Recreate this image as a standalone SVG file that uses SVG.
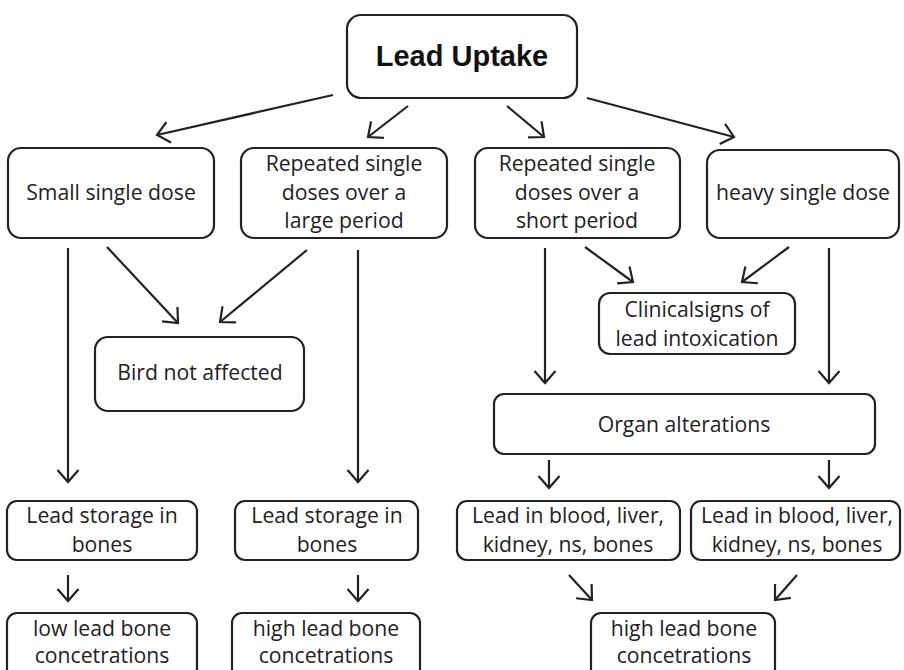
<svg xmlns="http://www.w3.org/2000/svg" width="904" height="670" viewBox="0 0 904 670">
<defs>
<style>
.box{fill:#fff;stroke:#222;stroke-width:2.2}
.t{font-family:"Open Sans","Noto Sans",sans-serif;font-size:21.2px;fill:#222;text-anchor:middle}
.title{font-family:"Liberation Sans",Arial,sans-serif;font-size:29px;font-weight:bold;fill:#111;text-anchor:middle}
.c line{stroke:#222;stroke-width:2.2;fill:none}
</style>
<marker id="a" markerUnits="userSpaceOnUse" viewBox="0 0 16 24" refX="14" refY="12" markerWidth="16" markerHeight="24" orient="auto">
<path d="M2,1.5 L14,12 L2,22.5" fill="none" stroke="#222" stroke-width="2.2"/>
</marker>
</defs>
<rect width="904" height="670" fill="#fff"/>

<g class="c">
<line x1="333" y1="95" x2="157" y2="135" marker-end="url(#a)"/>
<line x1="408" y1="106" x2="368" y2="137" marker-end="url(#a)"/>
<line x1="507" y1="106" x2="544" y2="137" marker-end="url(#a)"/>
<line x1="587" y1="98" x2="734" y2="137" marker-end="url(#a)"/>
<line x1="68" y1="248" x2="68" y2="482" marker-end="url(#a)"/>
<line x1="107" y1="247" x2="178" y2="323" marker-end="url(#a)"/>
<line x1="307" y1="250" x2="220" y2="322" marker-end="url(#a)"/>
<line x1="358" y1="250" x2="358" y2="482" marker-end="url(#a)"/>
<line x1="545" y1="248" x2="545" y2="383" marker-end="url(#a)"/>
<line x1="585" y1="247" x2="633" y2="282" marker-end="url(#a)"/>
<line x1="789" y1="247" x2="742" y2="282" marker-end="url(#a)"/>
<line x1="829" y1="248" x2="829" y2="383" marker-end="url(#a)"/>
<line x1="549" y1="460" x2="549" y2="488" marker-end="url(#a)"/>
<line x1="829" y1="460" x2="829" y2="488" marker-end="url(#a)"/>
<line x1="68" y1="575" x2="68" y2="601" marker-end="url(#a)"/>
<line x1="358" y1="575" x2="358" y2="601" marker-end="url(#a)"/>
<line x1="569" y1="575" x2="592" y2="600" marker-end="url(#a)"/>
<line x1="797" y1="575" x2="775" y2="600" marker-end="url(#a)"/>
</g>

<g id="lead-uptake"><rect class="box" x="347" y="15" width="230" height="83" rx="14"/><text class="title" x="462" y="66">Lead Uptake</text></g>
<g id="small-single"><rect class="box" x="8" y="148" width="206" height="90" rx="13"/><text class="t" x="111" y="200">Small single dose</text></g>
<g id="repeated-large"><rect class="box" x="241" y="148" width="206" height="90" rx="13"/><text class="t" x="344" y="171">Repeated single</text><text class="t" x="344" y="200">doses over a</text><text class="t" x="344" y="228">large period</text></g>
<g id="repeated-short"><rect class="box" x="475" y="148" width="205" height="90" rx="13"/><text class="t" x="577" y="171">Repeated single</text><text class="t" x="577" y="200">doses over a</text><text class="t" x="577" y="228">short period</text></g>
<g id="heavy-single"><rect class="box" x="707" y="150" width="192" height="88" rx="13"/><text class="t" x="803" y="200">heavy single dose</text></g>
<g id="bird-not-affected"><rect class="box" x="95" y="337" width="209" height="74" rx="13"/><text class="t" x="200" y="380">Bird not affected</text></g>
<g id="clinical-signs"><rect class="box" x="599" y="293" width="196" height="61" rx="11"/><text class="t" x="697" y="317">Clinicalsigns of</text><text class="t" x="697" y="346">lead intoxication</text></g>
<g id="organ-alterations"><rect class="box" x="494" y="394" width="381" height="60" rx="10"/><text class="t" x="684" y="432">Organ alterations</text></g>
<g id="storage-1"><rect class="box" x="7" y="501" width="190" height="59" rx="10"/><text class="t" x="102" y="523">Lead storage in</text><text class="t" x="102" y="552">bones</text></g>
<g id="storage-2"><rect class="box" x="235" y="501" width="183" height="59" rx="10"/><text class="t" x="327" y="523">Lead storage in</text><text class="t" x="327" y="552">bones</text></g>
<g id="blood-1"><rect class="box" x="457" y="501" width="223" height="59" rx="10"/><text class="t" x="568" y="523">Lead in blood, liver,</text><text class="t" x="568" y="552">kidney, ns, bones</text></g>
<g id="blood-2"><rect class="box" x="691" y="501" width="209" height="59" rx="10"/><text class="t" x="797" y="523">Lead in blood, liver,</text><text class="t" x="797" y="552">kidney, ns, bones</text></g>
<g id="low-conc"><rect class="box" x="7" y="613" width="190" height="70" rx="10"/><text class="t" x="102" y="636">low lead bone</text><text class="t" x="102" y="663">concetrations</text></g>
<g id="high-conc-1"><rect class="box" x="232" y="613" width="188" height="70" rx="10"/><text class="t" x="326" y="636">high lead bone</text><text class="t" x="326" y="663">concetrations</text></g>
<g id="high-conc-2"><rect class="box" x="591" y="613" width="184" height="70" rx="10"/><text class="t" x="684" y="636">high lead bone</text><text class="t" x="684" y="663">concetrations</text></g>
</svg>
